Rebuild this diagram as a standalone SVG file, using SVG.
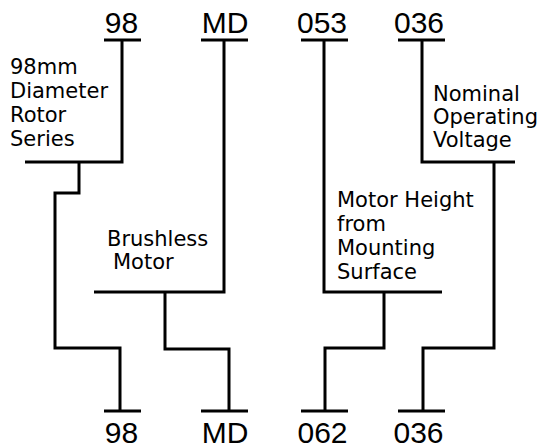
<svg xmlns="http://www.w3.org/2000/svg" width="540" height="448" viewBox="0 0 540 448">
<style>
.ln{fill:none;stroke:#000;stroke-width:3;stroke-linecap:butt;stroke-linejoin:miter}
.code{font-family:"Liberation Sans",Arial,sans-serif;font-size:30px;fill:#000;text-anchor:middle}
.lbl{font-family:"DejaVu Sans","Liberation Sans",sans-serif;font-size:21px;fill:#000}
</style>
<rect width="540" height="448" fill="#fff"/>
<g id="top-98"><text class="code" x="121.5" y="33">98</text><line class="ln" x1="104" y1="40" x2="141" y2="40"/></g>
<g id="top-MD"><text class="code" x="225" y="33">MD</text><line class="ln" x1="201" y1="40" x2="248" y2="40"/></g>
<g id="top-053"><text class="code" x="322" y="33">053</text><line class="ln" x1="301" y1="40" x2="348" y2="40"/></g>
<g id="top-036"><text class="code" x="419" y="33">036</text><line class="ln" x1="398" y1="40" x2="445" y2="40"/></g>
<g id="bot-98"><text class="code" x="121.5" y="443">98</text><line class="ln" x1="104" y1="411" x2="141" y2="411"/></g>
<g id="bot-MD"><text class="code" x="225" y="443">MD</text><line class="ln" x1="201" y1="411" x2="248" y2="411"/></g>
<g id="bot-062"><text class="code" x="322.5" y="443">062</text><line class="ln" x1="301" y1="411" x2="348" y2="411"/></g>
<g id="bot-036"><text class="code" x="418.5" y="443">036</text><line class="ln" x1="398" y1="411" x2="445" y2="411"/></g>
<g id="label-diameter"><text class="lbl" x="10" y="74">98mm</text><text class="lbl" x="10" y="98">Diameter</text><text class="lbl" x="10" y="122">Rotor</text><text class="lbl" x="10" y="146">Series</text></g>
<g id="label-brushless"><text class="lbl" x="107" y="246">Brushless</text><text class="lbl" x="113" y="269">Motor</text></g>
<g id="label-height"><text class="lbl" x="337" y="207">Motor Height</text><text class="lbl" x="337" y="231">from</text><text class="lbl" x="337" y="255">Mounting</text><text class="lbl" x="337" y="279">Surface</text></g>
<g id="label-voltage"><text class="lbl" x="433" y="101">Nominal</text><text class="lbl" x="433" y="124">Operating</text><text class="lbl" x="433" y="147">Voltage</text></g>
<g id="connectors">
<polyline class="ln" points="122,40 122,162 25,162"/>
<polyline class="ln" points="79,162 79,193 55,193 55,348 120,348 120,411"/>
<polyline class="ln" points="224,40 224,292 94,292"/>
<polyline class="ln" points="165,292 165,349 229,349 229,411"/>
<polyline class="ln" points="324,40 324,292 442,292"/>
<polyline class="ln" points="384,292 384,348 325,348 325,411"/>
<polyline class="ln" points="422,40 422,162 515,162"/>
<polyline class="ln" points="494,162 494,348 423,348 423,411"/>
</g>
</svg>
